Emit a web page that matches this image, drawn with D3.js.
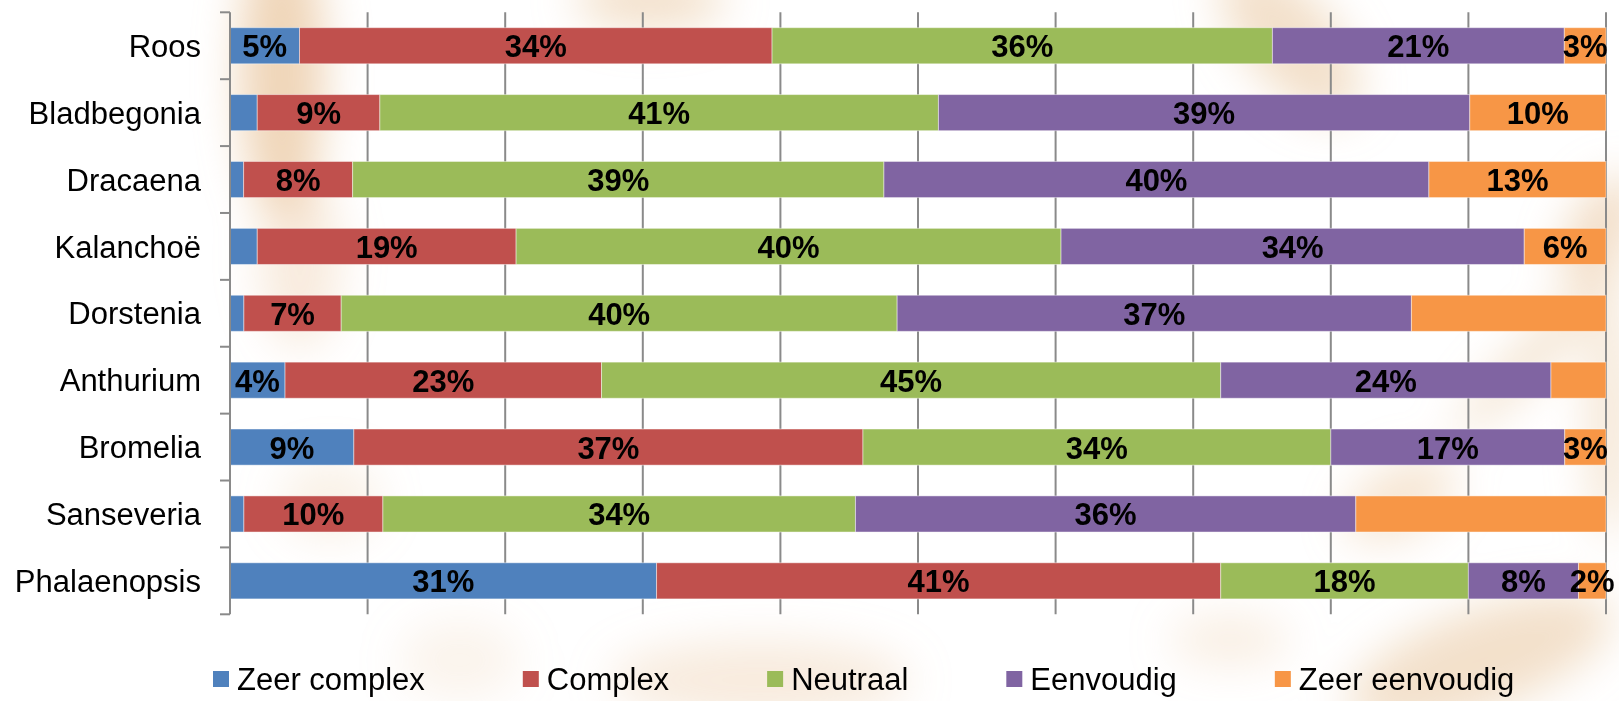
<!DOCTYPE html>
<html>
<head>
<meta charset="utf-8">
<script src="https://cdn.jsdelivr.net/npm/d3@7"></script>
<style>
  html, body { margin: 0; padding: 0; background: #fff; }
  svg { display: block; font-family: "Liberation Sans", Arial, sans-serif; }
</style>
</head>
<body>
<svg id="chart" width="1619" height="701"></svg>
<script>
// ---- data ----
const categories = ["Roos", "Bladbegonia", "Dracaena", "Kalanchoë", "Dorstenia", "Anthurium", "Bromelia", "Sanseveria", "Phalaenopsis"];
const seriesNames = ["Zeer complex", "Complex", "Neutraal", "Eenvoudig", "Zeer eenvoudig"];
const zeerComplex   = [5, 2, 1, 2, 1, 4, 9, 1, 31];
const complex       = [34, 9, 8, 19, 7, 23, 37, 10, 41];
const neutraal      = [36, 41, 39, 40, 40, 45, 34, 34, 18];
const eenvoudig     = [21, 39, 40, 34, 37, 24, 17, 36, 8];
const zeerEenvoudig = [3, 10, 13, 6, 14, 4, 3, 18, 2];
const colors = ["#4f81bd", "#c0504d", "#9bbb59", "#8064a2", "#f79646"];
// data labels that are not shown in the original: [series, category]
const hiddenLabels = [
  ["Zeer complex", "Bladbegonia"], ["Zeer complex", "Dracaena"], ["Zeer complex", "Kalanchoë"],
  ["Zeer complex", "Dorstenia"], ["Zeer complex", "Sanseveria"],
  ["Zeer eenvoudig", "Dorstenia"], ["Zeer eenvoudig", "Anthurium"], ["Zeer eenvoudig", "Sanseveria"]
];
const xTicks = [0, 0.1, 0.2, 0.3, 0.4, 0.5, 0.6, 0.7, 0.8, 0.9, 1];

// ---- table ----
const seriesValues = [zeerComplex, complex, neutraal, eenvoudig, zeerEenvoudig];
const rows = categories.map((c, i) => {
  const r = { category: c };
  seriesNames.forEach((s, j) => r[s] = seriesValues[j][i]);
  return r;
});
const stacked = d3.stack().keys(seriesNames).offset(d3.stackOffsetExpand)(rows);
const hiddenSet = new Set(hiddenLabels.map(d => d[0] + "|" + d[1]));

const svg = d3.select("#chart");
const W = 1619, H = 701;
const plot = { left: 230, right: 1606, top: 12.3, bottom: 614.3 };

const x = d3.scaleLinear().domain([0, 1]).range([plot.left, plot.right]);
const y = d3.scaleBand().domain(categories).range([plot.top, plot.bottom]).paddingInner(0.46).paddingOuter(0.23);
const color = d3.scaleOrdinal().domain(seriesNames).range(colors);

// ---- faint background watermark ----
const defs = svg.append("defs");
defs.append("filter").attr("id", "blur").attr("x", "-50%").attr("y", "-50%").attr("width", "200%").attr("height", "200%")
  .append("feGaussianBlur").attr("stdDeviation", 22);
const wm = svg.append("g").attr("filter", "url(#blur)").attr("fill", "#eac7a0");
const blobs = [
  { cx: 282, cy: 70, rx: 42, ry: 150, rot: 0, o: 0.75 },
  { cx: 300, cy: 260, rx: 40, ry: 90, rot: 0, o: 0.35 },
  { cx: 650, cy: 0, rx: 75, ry: 30, rot: 0, o: 0.55 },
  { cx: 1290, cy: 40, rx: 45, ry: 95, rot: -40, o: 0.55 },
  { cx: 1600, cy: 230, rx: 30, ry: 60, rot: 30, o: 0.6 },
  { cx: 1540, cy: 350, rx: 18, ry: 120, rot: 45, o: 0.5 },
  { cx: 1610, cy: 420, rx: 20, ry: 120, rot: 0, o: 0.5 },
  { cx: 1400, cy: 500, rx: 60, ry: 35, rot: -30, o: 0.45 },
  { cx: 1480, cy: 660, rx: 140, ry: 50, rot: -20, o: 0.55 },
  { cx: 1230, cy: 640, rx: 60, ry: 25, rot: 0, o: 0.3 },
  { cx: 760, cy: 680, rx: 150, ry: 40, rot: 0, o: 0.35 },
  { cx: 330, cy: 500, rx: 50, ry: 40, rot: 0, o: 0.25 },
  { cx: 460, cy: 660, rx: 60, ry: 40, rot: 0, o: 0.2 }
];
wm.selectAll("ellipse").data(blobs).join("ellipse")
  .attr("cx", d => d.cx).attr("cy", d => d.cy).attr("rx", d => d.rx).attr("ry", d => d.ry)
  .attr("transform", d => `rotate(${d.rot},${d.cx},${d.cy})`)
  .attr("opacity", d => d.o);

// ---- gridlines ----
svg.append("g").selectAll("line").data(xTicks.slice(1)).join("line")
  .attr("x1", d => x(d)).attr("x2", d => x(d))
  .attr("y1", plot.top).attr("y2", plot.bottom)
  .attr("stroke", "#8a8a8a").attr("stroke-width", 2);

// ---- bars ----
const layers = svg.append("g").selectAll("g").data(stacked).join("g")
  .attr("fill", d => color(d.key));
layers.selectAll("rect").data(d => d.map(p => ({ p, key: d.key }))).join("rect")
  .attr("x", d => x(d.p[0]))
  .attr("width", d => x(d.p[1]) - x(d.p[0]))
  .attr("y", d => y(d.p.data.category))
  .attr("height", y.bandwidth())
  .attr("stroke", "rgba(255,255,255,0.45)").attr("stroke-width", 1);

// ---- y axis ----
const yAxis = d3.axisLeft(y).tickSize(0).tickPadding(29).tickFormat(d => d);
const gy = svg.append("g").attr("transform", `translate(${plot.left},0)`).call(yAxis);
gy.select(".domain").remove();
gy.selectAll("text").attr("font-size", 31).attr("fill", "#000")
  .attr("font-family", "Liberation Sans, Arial, sans-serif")
  .attr("dy", "0.36em");
// axis line and category-boundary ticks
const step = y.step();
const boundaries = d3.range(categories.length + 1).map(i => plot.top + i * step);
const axisG = svg.append("g").attr("stroke", "#8a8a8a").attr("stroke-width", 2);
axisG.append("line").attr("x1", plot.left).attr("x2", plot.left).attr("y1", plot.top).attr("y2", plot.bottom);
axisG.selectAll("line.tick").data(boundaries).join("line").attr("class", "tick")
  .attr("x1", plot.left - 10).attr("x2", plot.left).attr("y1", d => d).attr("y2", d => d);

// ---- data labels ----
const labelG = svg.append("g").attr("font-size", 31).attr("font-weight", "bold")
  .attr("text-anchor", "middle").attr("fill", "#000");
stacked.forEach(layer => {
  layer.forEach(p => {
    const cat = p.data.category;
    if (hiddenSet.has(layer.key + "|" + cat)) return;
    labelG.append("text")
      .attr("x", (x(p[0]) + x(p[1])) / 2)
      .attr("y", y(cat) + y.bandwidth() / 2)
      .attr("dy", "0.37em")
      .text(p.data[layer.key] + "%");
  });
});

// ---- legend ----
const legend = svg.append("g").attr("transform", "translate(213,671)");
let lx = 0;
seriesNames.forEach(s => {
  const item = legend.append("g").attr("transform", `translate(${lx},0)`);
  item.append("rect").attr("width", 16).attr("height", 16).attr("fill", color(s));
  const t = item.append("text").attr("x", 24).attr("y", 8).attr("dy", "0.36em")
    .attr("font-size", 31).attr("fill", "#000").text(s);
  lx += 24 + t.node().getComputedTextLength() + 98;
});
</script>
</body>
</html>
